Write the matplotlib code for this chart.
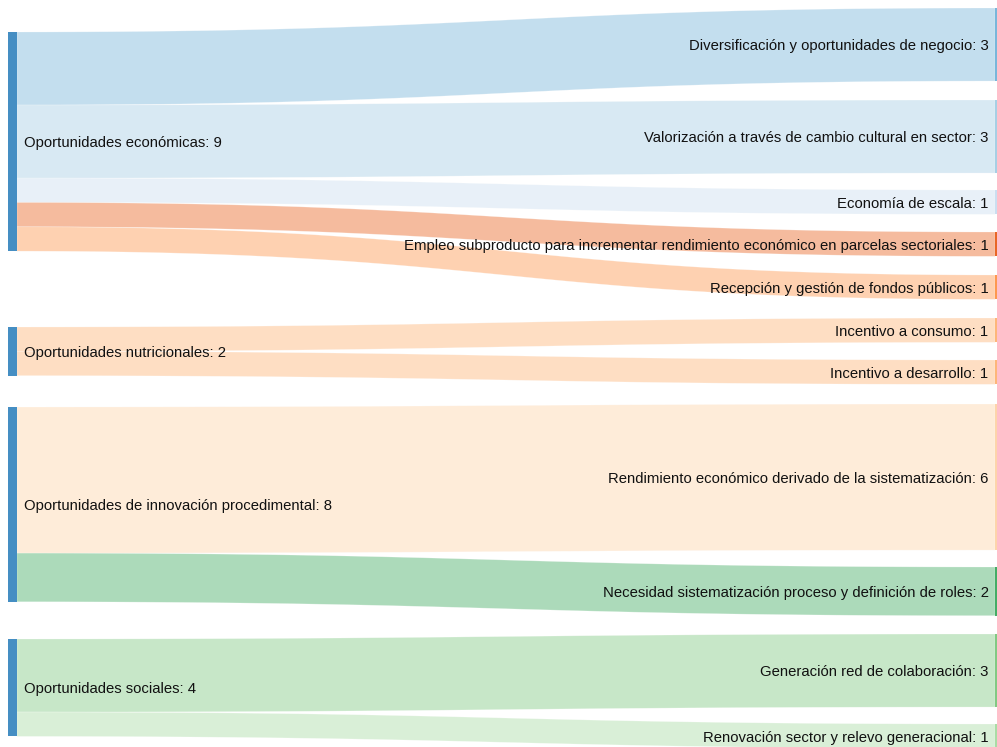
import matplotlib
matplotlib.use("Agg")
import matplotlib.pyplot as plt
from matplotlib.patches import Polygon, Rectangle
import numpy as np

plt.rcParams['font.family'] = ['Liberation Sans', 'DejaVu Sans']

# ---- data ----
left_nodes = ["Oportunidades económicas", "Oportunidades nutricionales",
              "Oportunidades de innovación procedimental", "Oportunidades sociales"]
right_nodes = ["Diversificación y oportunidades de negocio",
               "Valorización a través de cambio cultural en sector",
               "Economía de escala",
               "Empleo subproducto para incrementar rendimiento económico en parcelas sectoriales",
               "Recepción y gestión de fondos públicos",
               "Incentivo a consumo",
               "Incentivo a desarrollo",
               "Rendimiento económico derivado de la sistematización",
               "Necesidad sistematización proceso y definición de roles",
               "Generación red de colaboración",
               "Renovación sector y relevo generacional"]
link_source = [0, 0, 0, 0, 0, 1, 1, 2, 2, 3, 3]
link_target = [0, 1, 2, 3, 4, 5, 6, 7, 8, 9, 10]
link_value = [3, 3, 1, 1, 1, 1, 1, 6, 2, 3, 1]

# ---- style / layout ----
left_color = "#3182bd"
right_colors = ["#6baed6", "#9ecae1", "#c6dbef", "#e6550d", "#fd8d3c",
                "#fdae6b", "#fdae6b", "#fdd0a2", "#31a354", "#74c476", "#a1d99b"]
px_per_unit = 24.35
left_tops = [32, 327, 407, 639]
right_tops = [8, 100, 190, 232, 275, 318, 360, 404, 567, 634, 724]
x_left0, node_w = 8, 9
x_right0 = 995
W, H = 997, 747
fs = 10.7
text_dy = 1.5

fig = plt.figure(figsize=(W / 100, H / 100), dpi=100)
ax = fig.add_axes([0, 0, 1, 1])
ax.set_xlim(0, W)
ax.set_ylim(H, 0)
ax.axis('off')

# node values
left_vals = [sum(v for s, v in zip(link_source, link_value) if s == i) for i in range(len(left_nodes))]
right_vals = [sum(v for t, v in zip(link_target, link_value) if t == i) for i in range(len(right_nodes))]

# links
src_off = list(left_tops)
tgt_off = list(right_tops)
x0 = x_left0 + node_w
x1 = x_right0
t = np.linspace(0, 1, 100)
xm = (x0 + x1) / 2
bx = (1 - t) ** 3 * x0 + 3 * (1 - t) ** 2 * t * xm + 3 * (1 - t) * t ** 2 * xm + t ** 3 * x1


def bez_y(ya, yb):
    return (1 - t) ** 3 * ya + 3 * (1 - t) ** 2 * t * ya + 3 * (1 - t) * t ** 2 * yb + t ** 3 * yb


for s, tg, v in zip(link_source, link_target, link_value):
    h = v * px_per_unit
    ys0 = src_off[s]
    yt0 = tgt_off[tg]
    src_off[s] += h
    tgt_off[tg] += h
    top = bez_y(ys0, yt0)
    bot = bez_y(ys0 + h, yt0 + h)
    pts = np.vstack([np.column_stack([bx, top]), np.column_stack([bx[::-1], bot[::-1]])])
    ax.add_patch(Polygon(pts, closed=True, facecolor=right_colors[tg], alpha=0.4,
                         edgecolor='white', linewidth=0.4))

# nodes
for i, name in enumerate(left_nodes):
    h = left_vals[i] * px_per_unit
    ax.add_patch(Rectangle((x_left0, left_tops[i]), node_w, h, facecolor=left_color,
                           alpha=0.9, edgecolor='none'))
    ax.text(x_left0 + node_w + 6.5, left_tops[i] + h / 2 + text_dy, f"{name}: {left_vals[i]}",
            ha='left', va='center', fontsize=fs, color='#111111')

for i, name in enumerate(right_nodes):
    h = right_vals[i] * px_per_unit
    ax.add_patch(Rectangle((x_right0, right_tops[i]), node_w, h, facecolor=right_colors[i],
                           alpha=0.9, edgecolor='none'))
    ax.text(x_right0 - 6.5, right_tops[i] + h / 2 + text_dy, f"{name}: {right_vals[i]}",
            ha='right', va='center', fontsize=fs, color='#111111')

fig.savefig("out.png", dpi=100)
